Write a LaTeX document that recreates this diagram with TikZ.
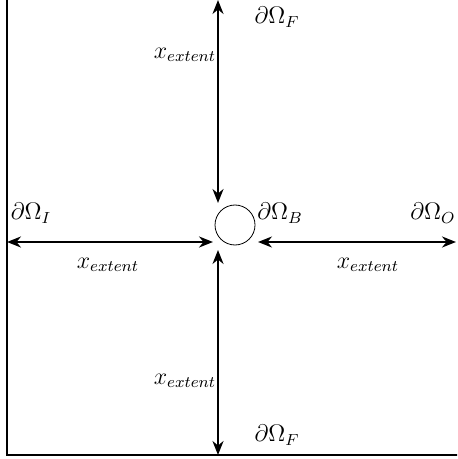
\documentclass[tikz,border=0pt]{standalone}
\usepackage{amsmath}
\usepackage{amssymb}
\usetikzlibrary{arrows.meta}

\begin{document}
\begin{tikzpicture}[x=0.5pt, y=-0.5pt, >={Stealth[length=7pt, width=5.5pt]},
             every node/.style={font=\large},
             body/.style={circle, draw, thin, minimum size=20pt, inner sep=0pt},
             extent/.style={<->, line width=1pt},
             wall/.style={line width=1pt}]
\useasboundingbox (0,0) rectangle (457,459);
\clip (0,0) rectangle (457,459);
%% domain walls (top and right run off the picture)
\draw[wall] (7,-20) -- (7,455) -- (480,455);
%% obstacle
\node[body] (cyl) at (235,225) {};
%% arrow end points
\coordinate (top)    at (218,0);
\coordinate (topin)  at (218,203);
\coordinate (bot)    at (218,455);
\coordinate (botin)  at (218,250);
\coordinate (left)   at (7,242);
\coordinate (leftin) at (213,242);
\coordinate (right)  at (456,242);
\coordinate (rightin) at (258,242);
%% x_extent arrows
\draw[extent] (top) -- (topin);
\draw[extent] (botin) -- (bot);
\draw[extent] (left) -- (leftin);
\draw[extent] (rightin) -- (right);
%% labels
\node (xtop)   at (185,55)  {$x_{extent}$};
\node (xbot)   at (185,381) {$x_{extent}$};
\node (xleft)  at (108,265) {$x_{extent}$};
\node (xright) at (368,265) {$x_{extent}$};
\node (farT)   at (277,17)  {$\partial\Omega_F$};
\node (farB)   at (277,435) {$\partial\Omega_F$};
\node (inlet)  at (31,213)  {$\partial\Omega_I$};
\node (bndB)   at (280,213) {$\partial\Omega_B$};
\node (outlet) at (433,213) {$\partial\Omega_O$};
\end{tikzpicture}
\end{document}
